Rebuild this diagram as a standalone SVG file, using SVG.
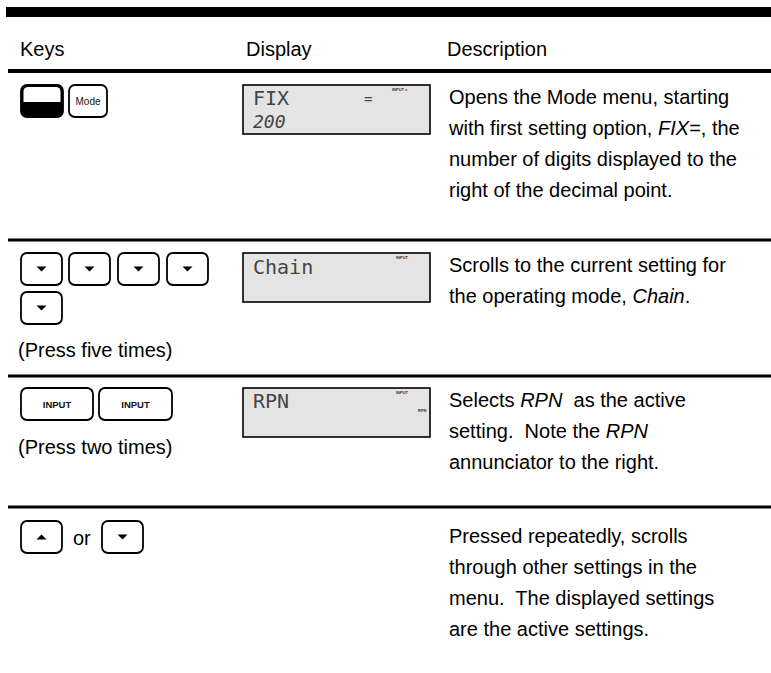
<svg xmlns="http://www.w3.org/2000/svg" width="771" height="673" viewBox="0 0 771 673">
  <defs>
    <style>
      .hdr { font-family: "Liberation Sans", Arial, sans-serif; font-size: 20px; fill: #000; }
      .txt { font-family: "Liberation Sans", Arial, sans-serif; font-size: 20px; fill: #000; }
      .key { fill: #fff; stroke: #000; stroke-width: 1.8; }
      .keylbl { font-family: "Liberation Sans", Arial, sans-serif; font-weight: bold; font-size: 9.5px; fill: #111; text-anchor: middle; }
      .lcd { fill: #e4e4e4; stroke: #000; stroke-width: 1.6; }
      .lcdtxt { font-family: "DejaVu Sans Mono", monospace; font-size: 20px; fill: #444; }
      .ann { font-family: "Liberation Sans", Arial, sans-serif; font-weight: bold; font-size: 4px; fill: #333; }
      .rule { stroke: #000; stroke-width: 3; }
    </style>
    <path id="tri-down" d="M-5,-2.5 L5,-2.5 L0,2.5 Z" fill="#000"/>
    <path id="tri-up" d="M-5,2.5 L5,2.5 L0,-2.5 Z" fill="#000"/>
  </defs>

  <rect width="771" height="673" fill="#fff"/>

  <!-- table frame -->
  <g id="rules">
    <rect x="6" y="7" width="765" height="10" fill="#000"/>
    <rect x="8" y="69" width="763" height="4" fill="#000"/>
    <line class="rule" x1="8" y1="240" x2="771" y2="240"/>
    <line class="rule" x1="8" y1="376" x2="771" y2="376"/>
    <line class="rule" x1="8" y1="507" x2="771" y2="507"/>
  </g>

  <!-- column headings -->
  <g id="header">
    <text class="hdr" x="20" y="56">Keys</text>
    <text class="hdr" x="246" y="56">Display</text>
    <text class="hdr" x="447" y="56">Description</text>
  </g>

  <!-- row 1: open Mode menu -->
  <g id="row1-keys">
    <rect x="21" y="85" width="42" height="32" rx="6" fill="#000" stroke="#000" stroke-width="1.8"/>
    <path d="M28,87 H56 A4.5,4.5 0 0 1 60.5,91.5 V102 H23.5 V91.5 A4.5,4.5 0 0 1 28,87 Z" fill="#fff"/>
    <rect class="key" x="69" y="85" width="38" height="32" rx="6"/>
    <text class="keylbl" x="88" y="105" style="font-size:10px;font-weight:normal">Mode</text>
  </g>
  <g id="row1-display">
    <rect class="lcd" x="243" y="85" width="187" height="49"/>
    <text class="lcdtxt" x="253" y="105">FIX</text>
    <text class="lcdtxt" x="364" y="104" style="font-size:14px">=</text>
    <text class="ann" x="392" y="91">INPUT =</text>
    <text class="lcdtxt" x="253" y="128" style="font-style:italic;font-size:18px">200</text>
  </g>
  <g id="row1-desc">
    <text class="txt" x="449" y="104">Opens the Mode menu, starting</text>
    <text class="txt" x="449" y="135">with first setting option, <tspan font-style="italic">FIX=</tspan>, the</text>
    <text class="txt" x="449" y="166">number of digits displayed to the</text>
    <text class="txt" x="449" y="197">right of the decimal point.</text>
  </g>

  <!-- row 2: scroll to operating mode -->
  <g id="row2-keys">
    <rect class="key" x="21" y="253" width="41" height="32" rx="6"/>
    <use href="#tri-down" x="41.5" y="269"/>
    <rect class="key" x="69" y="253" width="41" height="32" rx="6"/>
    <use href="#tri-down" x="89.5" y="269"/>
    <rect class="key" x="118" y="253" width="41" height="32" rx="6"/>
    <use href="#tri-down" x="138.5" y="269"/>
    <rect class="key" x="167" y="253" width="41" height="32" rx="6"/>
    <use href="#tri-down" x="187.5" y="269"/>
    <rect class="key" x="21" y="292" width="41" height="32" rx="6"/>
    <use href="#tri-down" x="41.5" y="308"/>
    <text class="txt" x="18" y="357">(Press five times)</text>
  </g>
  <g id="row2-display">
    <rect class="lcd" x="243" y="253" width="187" height="49"/>
    <text class="lcdtxt" x="253" y="274">Chain</text>
    <text class="ann" x="396" y="259">INPUT</text>
  </g>
  <g id="row2-desc">
    <text class="txt" x="449" y="272">Scrolls to the current setting for</text>
    <text class="txt" x="449" y="303">the operating mode, <tspan font-style="italic">Chain</tspan>.</text>
  </g>

  <!-- row 3: select RPN -->
  <g id="row3-keys">
    <rect class="key" x="21" y="388" width="72" height="32" rx="6"/>
    <text class="keylbl" x="57" y="408">INPUT</text>
    <rect class="key" x="99" y="388" width="73" height="32" rx="6"/>
    <text class="keylbl" x="135.5" y="408">INPUT</text>
    <text class="txt" x="18" y="454">(Press two times)</text>
  </g>
  <g id="row3-display">
    <rect class="lcd" x="243" y="388" width="187" height="49"/>
    <text class="lcdtxt" x="253" y="408">RPN</text>
    <text class="ann" x="396" y="394">INPUT</text>
    <text class="ann" x="418" y="412">RPN</text>
  </g>
  <g id="row3-desc">
    <text class="txt" x="449" y="407" xml:space="preserve">Selects <tspan font-style="italic">RPN</tspan>  as the active</text>
    <text class="txt" x="449" y="438" xml:space="preserve">setting.  Note the <tspan font-style="italic">RPN</tspan></text>
    <text class="txt" x="449" y="469">annunciator to the right.</text>
  </g>

  <!-- row 4: browse settings -->
  <g id="row4-keys">
    <rect class="key" x="21" y="521" width="41" height="32" rx="6"/>
    <use href="#tri-up" x="41.5" y="537"/>
    <text class="txt" x="73" y="545">or</text>
    <rect class="key" x="102" y="521" width="41" height="32" rx="6"/>
    <use href="#tri-down" x="122.5" y="537"/>
  </g>
  <g id="row4-desc">
    <text class="txt" x="449" y="543">Pressed repeatedly, scrolls</text>
    <text class="txt" x="449" y="574">through other settings in the</text>
    <text class="txt" x="449" y="605" xml:space="preserve">menu.  The displayed settings</text>
    <text class="txt" x="449" y="636">are the active settings.</text>
  </g>
</svg>
